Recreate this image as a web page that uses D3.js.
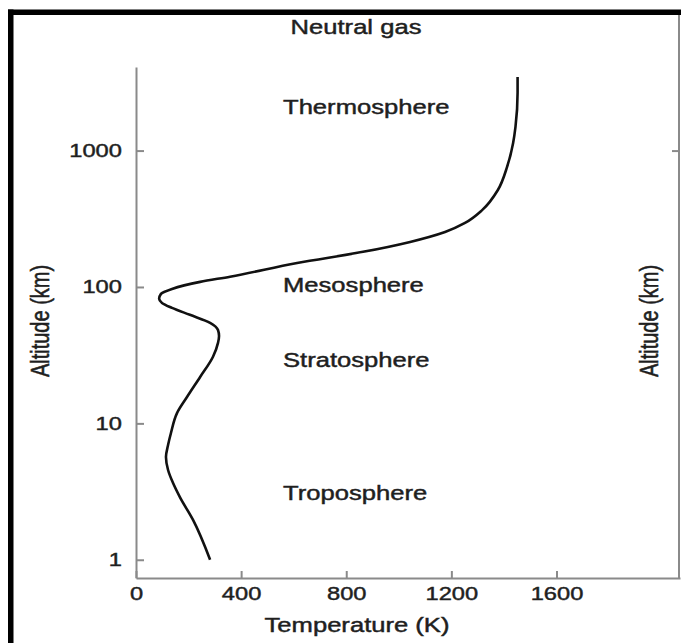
<!DOCTYPE html>
<html>
<head>
<meta charset="utf-8">
<script src="https://cdn.jsdelivr.net/npm/d3@7"></script>
<style>
  body { margin: 0; background: #fff; }
  svg { display: block; }
  text { font-family: "Liberation Sans", Arial, Helvetica, sans-serif; fill: #1f1f1f; stroke: #1f1f1f; stroke-width: 0.45px; }
</style>
</head>
<body>
<svg id="chart" width="681" height="643"></svg>
<script>
// temperature profile of the neutral atmosphere
var tempK = [282, 217, 167, 141, 122, 114, 122, 133, 156, 194, 244, 293, 312, 316, 312, 282, 205, 137, 99, 88, 95, 137, 244, 358, 613, 864, 1043, 1176, 1252, 1317, 1377, 1412, 1435, 1444, 1452, 1452];
var altKm = [1.0, 1.96, 2.88, 3.65, 4.55, 5.67, 6.94, 8.5, 11.9, 15.6, 21.9, 30.8, 38.9, 43.8, 48.4, 54.6, 62.5, 70.3, 76.4, 81.8, 89, 96.8, 109, 119, 150, 181, 214, 253, 295, 366, 514, 759, 1138, 1493, 2650, 3470];

var tempTicks = [0, 400, 800, 1200, 1600];
var altTicks = [1, 10, 100, 1000];

var layers = ["Thermosphere", "Mesosphere", "Stratosphere", "Troposphere"];
var layerAlt = [2100, 104, 29, 3.1];

var title = "Neutral gas";
var xTitle = "Temperature (K)";
var yTitle = "Altitude (km)";

var stretch = 1.28; // text in the picture is squeezed wider than it is tall
var grey = "#8a8a8a";

var svg = d3.select("#chart");

var x = d3.scaleLinear().domain([0, 2070]).range([136, 680]);
var y = d3.scaleLog().domain([0.735, 4100]).range([578, 67]);

// black frame on top and left
svg.append("rect").attr("x", 8).attr("y", 9.5).attr("width", 673).attr("height", 5.5).attr("fill", "#000");
svg.append("rect").attr("x", 8).attr("y", 9.5).attr("width", 5.5).attr("height", 634).attr("fill", "#000");

function label(txt, px, py, size, anchor, rot) {
    var t = "translate(" + px + "," + py + ") scale(" + stretch + ",1)";
    if (rot) t += " rotate(" + rot + ")";
    return svg.append("text")
        .attr("transform", t)
        .attr("text-anchor", anchor)
        .style("font-size", size + "px")
        .text(txt);
}

// left axis
var yAxis = svg.append("g")
    .attr("transform", "translate(" + x(0) + ",0)")
    .call(d3.axisLeft(y).tickValues(altTicks).tickFormat(d3.format("d"))
        .tickSizeInner(-8).tickSizeOuter(0).tickPadding(11));

// bottom axis
var xAxis = svg.append("g")
    .attr("transform", "translate(0," + y.range()[0] + ")")
    .call(d3.axisBottom(x).tickValues(tempTicks).tickFormat(d3.format("d"))
        .tickSizeInner(-7).tickSizeOuter(0).tickPadding(9));

// right axis, only the 1000 km tick shows
var rAxis = svg.append("g")
    .attr("transform", "translate(" + (x.range()[1] - 1) + ",0)")
    .call(d3.axisRight(y).tickValues([1000]).tickFormat("").tickSizeInner(-7).tickSizeOuter(0));
rAxis.select(".domain").remove();
svg.append("line")
    .attr("x1", x.range()[1] - 1).attr("x2", x.range()[1] - 1)
    .attr("y1", 15).attr("y2", y.range()[0])
    .attr("stroke", grey).attr("stroke-width", 2);

[yAxis, xAxis, rAxis].forEach(function(g) {
    g.selectAll("path, line").attr("stroke", grey).attr("stroke-width", 2);
    g.selectAll("text")
        .attr("transform", "scale(" + stretch + ",1)")
        .style("font-size", "18.5px")
        .attr("fill", "#1f1f1f")
        .attr("font-family", null);
});

// temperature curve; altitude rises along it so it is monotone in y
var pts = tempK.map(function(t, i) { return [t, altKm[i]]; });
var line = d3.line()
    .x(function(d) { return x(d[0]); })
    .y(function(d) { return y(d[1]); })
    .curve(d3.curveMonotoneY);

svg.append("path")
    .datum(pts)
    .attr("d", line)
    .attr("fill", "none")
    .attr("stroke", "#111")
    .attr("stroke-width", 2.6)
    .attr("stroke-linejoin", "round");

// layer names
layers.forEach(function(name, i) {
    label(name, 283, y(layerAlt[i]) + 7, 20, "start");
});

label(title, 356, 34, 20, "middle");
label(xTitle, 357, 632, 20, "middle");
label(yTitle, 49, 321, 20, "middle", -90);
label(yTitle, 658, 321, 20, "middle", -90);
</script>
</body>
</html>
